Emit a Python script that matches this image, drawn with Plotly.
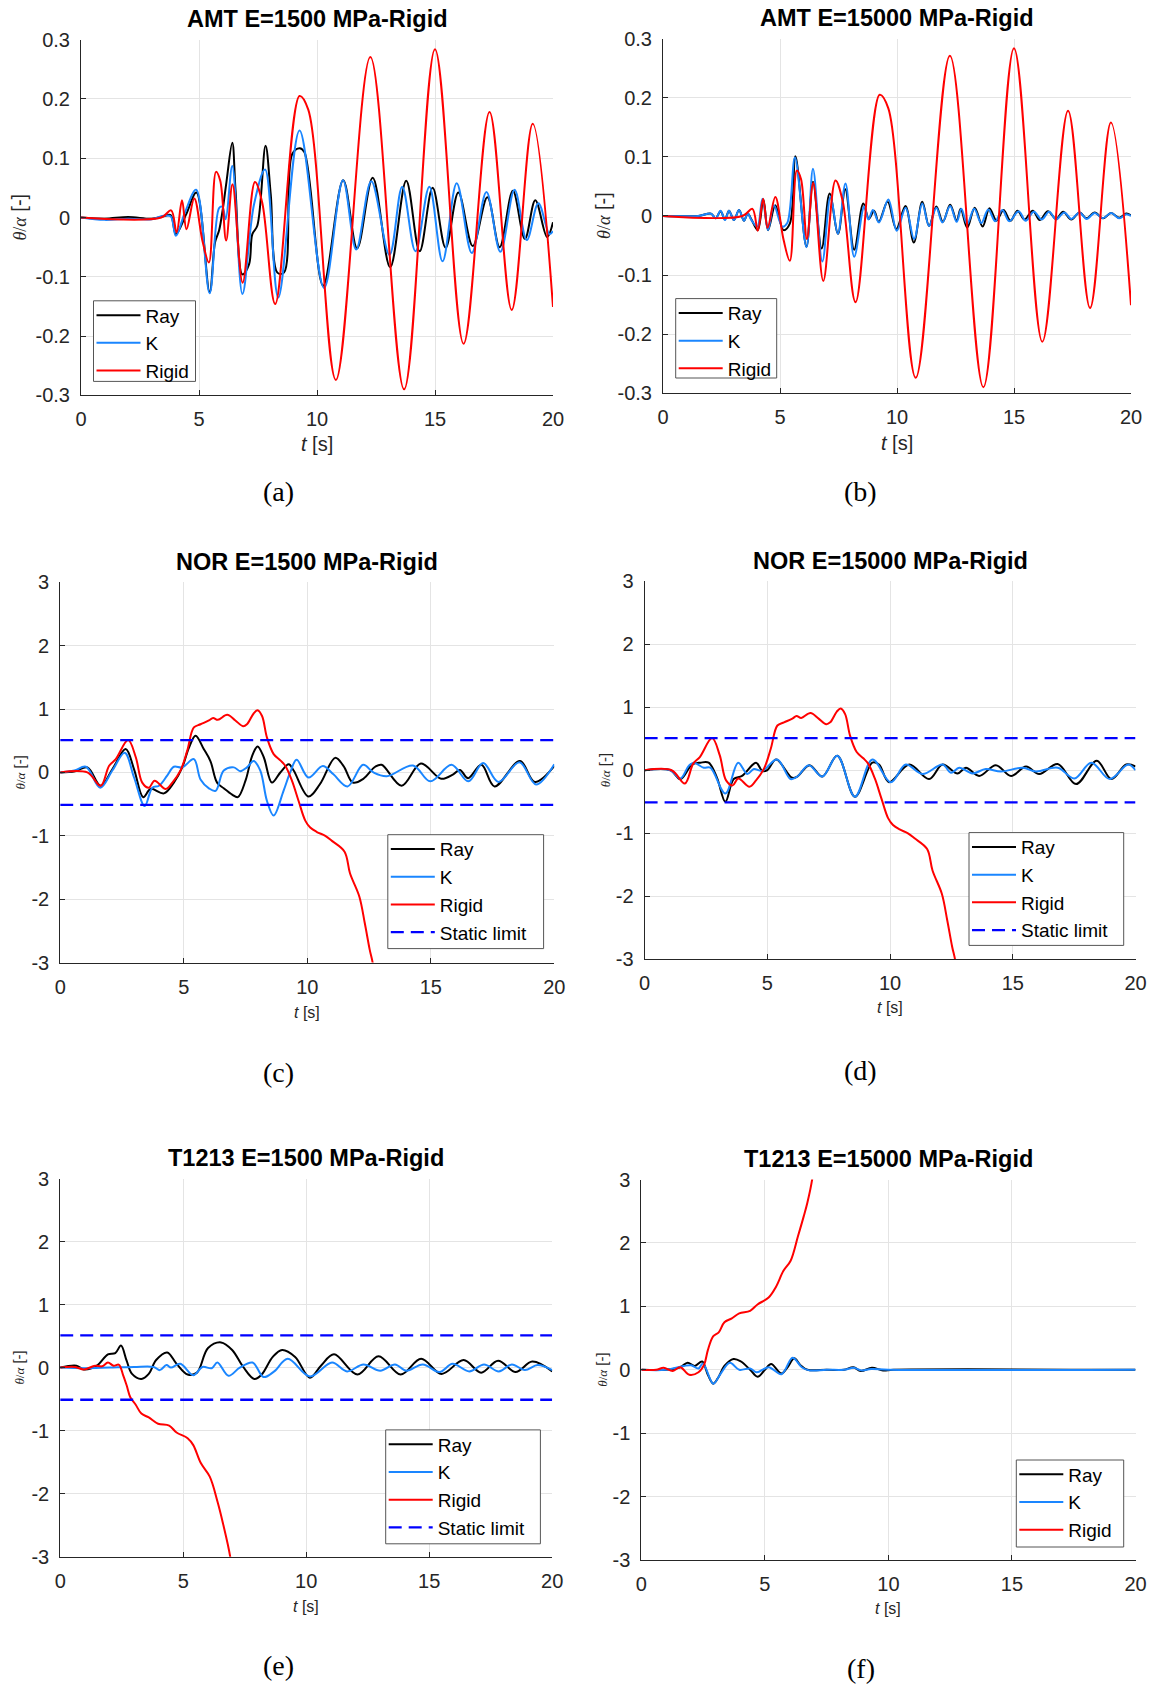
import plotly.graph_objects as go

# ------------------------------------------------------------------ data
# AMT (panels a, b) -- rigid response is common to both panels
t_amt_rigid = [0, 3.4, 3.82, 4.05, 4.28, 4.47, 4.8, 5.15, 5.42, 5.72, 5.9, 6.15, 6.42, 6.85, 7.37, 7.68,
               8.23, 9.26, 9.63, 10.8, 12.26, 13.69, 15.0, 16.21, 17.31, 18.25, 19.14, 20]
v_amt_rigid = [0, 0, 0.012, -0.025, 0.029, -0.02, 0.032, -0.04, -0.076, 0.077, 0.062, -0.039, 0.056, -0.11,
               0.06, 0.025, -0.146, 0.205, 0.182, -0.274, 0.271, -0.29, 0.284, -0.213, 0.178, -0.156, 0.158, -0.151]

t_amt1500_ray = [0, 1.0, 2.0, 3.0, 3.5, 3.8, 4.02, 4.45, 4.89, 5.45, 5.68, 5.85, 6.0, 6.16, 6.41, 6.55, 6.84,
                 7.12, 7.26, 7.47, 7.82, 8.04, 8.32, 8.6, 8.95, 9.27, 9.47, 10.26, 11.11, 11.7, 12.36, 13.1,
                 13.78, 14.35, 14.9, 15.45, 15.99, 16.6, 17.22, 17.74, 18.3, 18.81, 19.25, 19.75, 20]
v_amt1500_ray = [0, -0.002, 0.001, -0.002, 0.002, 0.004, -0.028, 0.005, 0.042, -0.126, -0.042, -0.022, 0.012,
                 0.059, 0.126, 0.045, -0.096, -0.079, -0.028, -0.014, 0.121, 0.039, -0.093, -0.093, 0.107,
                 0.117, 0.11, -0.115, 0.063, -0.052, 0.067, -0.084, 0.062, -0.057, 0.05, -0.051, 0.042,
                 -0.048, 0.034, -0.05, 0.045, -0.036, 0.029, -0.033, -0.008]

t_amt1500_k = [0, 1.0, 2.0, 3.0, 3.5, 3.8, 4.02, 4.4, 4.88, 5.45, 5.85, 5.99, 6.13, 6.41, 6.84, 7.33, 7.8,
               8.36, 9.26, 10.3, 11.1, 11.66, 12.3, 13.07, 13.61, 14.17, 14.76, 15.32, 15.92, 16.56, 17.18,
               17.77, 18.37, 18.89, 19.38, 19.85, 20]
v_amt1500_k = [0, -0.004, -0.002, -0.003, 0.003, 0.002, -0.031, 0.008, 0.047, -0.128, 0.016, 0.018, -0.003,
               0.087, -0.129, 0.022, 0.081, -0.135, 0.147, -0.119, 0.063, -0.054, 0.061, -0.063, 0.052,
               -0.057, 0.052, -0.074, 0.058, -0.06, 0.043, -0.058, 0.047, -0.038, 0.024, -0.028, -0.023]

t_amt15000_ray = [0, 1.5, 2.05, 2.25, 2.46, 2.65, 2.82, 3.03, 3.25, 3.46, 3.62, 3.78, 4.05, 4.29, 4.49, 4.8,
                  5.15, 5.42, 5.66, 6.13, 6.41, 6.78, 7.12, 7.48, 7.79, 8.17, 8.56, 8.8, 9.02, 9.22, 9.6,
                  9.97, 10.36, 10.72, 11.08, 11.37, 11.68, 11.96, 12.27, 12.55, 12.72, 13.0, 13.32, 13.66,
                  13.95, 14.25, 14.55, 14.85, 15.15, 15.45, 15.8, 16.1, 16.45, 16.8, 17.1, 17.45, 17.8, 18.1,
                  18.45, 18.8, 19.15, 19.5, 19.8, 20]
v_amt15000_ray = [0, 0, 0.004, -0.004, 0.008, -0.006, 0.009, -0.007, 0.01, -0.008, 0.004, -0.006, -0.024,
                  0.028, -0.024, 0.018, -0.024, -0.013, 0.101, -0.052, 0.058, -0.055, 0.038, -0.03, 0.045,
                  -0.057, 0.021, -0.005, 0.009, -0.01, 0.024, -0.022, 0.017, -0.045, 0.024, -0.017, 0.016,
                  -0.01, 0.019, -0.008, 0.012, -0.02, 0.014, -0.018, 0.013, -0.008, 0.01, -0.008, 0.009,
                  -0.006, 0.009, -0.007, 0.008, -0.005, 0.007, -0.006, 0.006, -0.004, 0.006, -0.004, 0.005,
                  -0.003, 0.004, 0.001]

t_amt15000_k = [0, 1.5, 2.05, 2.25, 2.46, 2.65, 2.82, 3.03, 3.25, 3.46, 3.62, 3.78, 4.03, 4.25, 4.49, 4.74,
                5.1, 5.31, 5.64, 6.13, 6.41, 6.81, 7.16, 7.47, 7.8, 8.17, 8.6, 8.78, 8.97, 9.23, 9.63, 9.99,
                10.37, 10.73, 11.08, 11.37, 11.68, 11.94, 12.27, 12.55, 12.75, 13.0, 13.3, 13.6, 13.9, 14.2,
                14.5, 14.8, 15.2, 15.5, 15.85, 16.18, 16.5, 16.8, 17.15, 17.45, 17.8, 18.1, 18.45, 18.8,
                19.15, 19.5, 19.8, 20]
v_amt15000_k = [0, 0, 0.004, -0.004, 0.009, -0.007, 0.009, -0.007, 0.01, -0.008, 0.004, -0.007, -0.018,
                0.029, -0.024, 0.018, -0.018, -0.012, 0.099, -0.053, 0.08, -0.077, 0.033, -0.03, 0.055,
                -0.069, 0.016, -0.006, 0.01, -0.011, 0.028, -0.025, 0.014, -0.039, 0.021, -0.017, 0.014,
                -0.011, 0.017, -0.01, 0.012, -0.014, 0.012, -0.012, 0.011, -0.009, 0.01, -0.009, 0.008,
                -0.008, 0.007, -0.006, 0.007, -0.006, 0.006, -0.005, 0.006, -0.005, 0.005, -0.004, 0.005,
                -0.004, 0.003, 0.0]

# NOR (panels c, d) -- rigid response is common to both panels
t_nor_rigid = [0, 1.1, 1.64, 1.98, 2.25, 2.75, 3.06, 3.32, 3.59, 3.82, 4.27, 4.54, 4.87, 5.14, 5.41, 5.68,
               6.02, 6.19, 6.38, 6.76, 7.09, 7.4, 7.56, 7.83, 7.99, 8.17, 8.37, 8.64, 8.91, 9.11, 9.38, 9.65,
               9.92, 10.12, 10.39, 10.73, 11.0, 11.51, 11.73, 12.11, 12.33, 12.53, 12.66, 12.8]
v_nor_rigid = [0, 0, -0.21, 0.105, 0.21, 0.51, 0.24, -0.16, -0.24, -0.13, -0.26, -0.16, 0.03, 0.34, 0.71,
               0.76, 0.82, 0.86, 0.83, 0.91, 0.82, 0.73, 0.76, 0.93, 0.98, 0.89, 0.55, 0.29, 0.19, 0.105,
               -0.13, -0.45, -0.76, -0.87, -0.94, -1.0, -1.08, -1.25, -1.59, -1.96, -2.38, -2.80, -3.03, -3.6]

t_nor1500_ray = [0, 0.6, 1.1, 1.64, 2.11, 2.65, 2.99, 3.36, 3.66, 4.2, 4.6, 4.94, 5.21, 5.48, 5.81, 6.08,
                 6.35, 6.62, 6.96, 7.19, 7.5, 7.77, 7.99, 8.24, 8.57, 8.91, 9.25, 9.45, 10.05, 10.52, 11.13,
                 11.47, 11.85, 12.27, 12.75, 13.01, 13.82, 14.6, 15.42, 15.91, 16.18, 16.51, 17.05, 17.58,
                 18.61, 19.21, 20]
v_nor1500_ray = [0, 0.02, 0.08, -0.21, 0.05, 0.37, 0.05, -0.39, -0.26, -0.33, -0.16, 0.08, 0.39, 0.58, 0.37,
                 0.18, -0.16, -0.25, -0.35, -0.39, -0.13, 0.26, 0.41, 0.24, -0.16, 0.0, 0.13, 0.03, -0.38,
                 -0.18, 0.23, 0.1, -0.16, -0.1, 0.09, 0.12, -0.21, 0.14, -0.1, -0.03, 0.04, -0.09, 0.12,
                 -0.22, 0.18, -0.15, 0.1]

t_nor1500_k = [0, 0.57, 1.04, 1.62, 2.11, 2.61, 2.99, 3.42, 3.73, 4.0, 4.33, 4.6, 4.94, 5.41, 5.68, 6.02,
               6.29, 6.62, 7.03, 7.29, 7.56, 7.83, 8.1, 8.37, 8.64, 9.04, 9.31, 9.57, 10.05, 10.63, 11.06,
               11.63, 12.26, 12.68, 13.22, 14.28, 14.98, 15.84, 16.52, 17.12, 17.74, 18.59, 19.26, 20]
v_nor1500_k = [0, 0.03, 0.09, -0.24, 0.03, 0.31, -0.08, -0.53, -0.24, -0.21, -0.05, 0.09, 0.08, 0.21, -0.11,
               -0.25, -0.29, 0.03, 0.08, 0.02, 0.08, 0.18, 0.03, -0.45, -0.68, -0.29, 0.0, 0.2, -0.08, 0.1,
               -0.03, -0.22, 0.12, 0.0, -0.06, 0.11, -0.14, 0.12, -0.14, 0.15, -0.15, 0.16, -0.19, 0.13]

t_nor15000_ray = [0, 1.05, 1.46, 1.93, 2.27, 2.61, 2.95, 3.29, 3.63, 3.97, 4.54, 4.79, 4.99, 5.36, 6.01,
                  6.22, 6.72, 7.24, 7.85, 8.57, 9.28, 9.55, 9.96, 10.78, 11.59, 12.14, 12.75, 13.09, 13.63,
                  14.31, 14.93, 15.54, 16.08, 16.83, 17.58, 18.42, 19.02, 19.62, 20]
v_nor15000_ray = [0, 0, -0.14, 0.09, 0.12, 0.12, -0.12, -0.5, -0.14, -0.09, 0.12, -0.01, 0.0, 0.17, -0.12,
                  -0.1, 0.08, -0.1, 0.23, -0.42, 0.12, 0.09, -0.19, 0.09, -0.14, 0.09, -0.05, 0.04, -0.09,
                  0.08, -0.09, 0.06, -0.06, 0.1, -0.22, 0.15, -0.14, 0.09, 0.06]

t_nor15000_k = [0, 1.05, 1.46, 1.8, 2.0, 2.41, 2.68, 3.29, 3.81, 4.18, 4.45, 4.79, 5.4, 5.95, 6.22, 6.69,
                7.24, 7.85, 8.57, 9.28, 10.03, 10.64, 11.32, 12.14, 12.48, 12.82, 13.36, 13.9, 14.52, 15.4,
                15.95, 16.83, 17.51, 18.2, 18.95, 19.7, 20]
v_nor15000_k = [0, 0, -0.13, 0.07, 0.12, 0.04, 0.04, -0.37, 0.12, -0.06, 0.02, -0.01, 0.17, -0.14, -0.1,
                0.08, -0.1, 0.23, -0.42, 0.17, -0.19, 0.09, -0.06, 0.09, -0.04, 0.04, -0.05, 0.02, -0.02,
                0.04, -0.02, 0.04, -0.13, 0.12, -0.14, 0.09, 0.0]

# T1213 (panels e, f)
t_t1500_rigid = [0, 0.6, 0.96, 1.42, 1.7, 1.94, 2.17, 2.39, 2.55, 2.7, 2.85, 3.07, 3.3, 3.6, 3.98, 4.43,
                 4.73, 5.18, 5.41, 5.71, 6.08, 6.39, 6.61, 6.91, 7.05]
v_t1500_rigid = [0, 0.01, -0.03, 0.03, 0.02, 0.08, 0.03, 0.045, -0.11, -0.28, -0.47, -0.59, -0.73, -0.79,
                 -0.89, -0.92, -1.03, -1.12, -1.23, -1.51, -1.73, -2.12, -2.46, -3.0, -3.5]

t_t1500_ray = [0, 0.66, 0.96, 1.49, 1.94, 2.24, 2.47, 2.7, 2.92, 3.3, 3.6, 3.9, 4.35, 4.73, 5.18, 5.56,
               6.01, 6.54, 6.99, 7.44, 7.89, 8.19, 8.64, 9.02, 9.55, 10.15, 10.6, 11.13, 12.08, 12.94,
               13.84, 14.67, 15.5, 16.4, 17.11, 17.8, 18.51, 19.19, 20]
v_t1500_ray = [0, 0.03, -0.03, 0.03, 0.21, 0.23, 0.35, 0.11, -0.1, -0.18, -0.1, 0.12, 0.24, 0.06, -0.11,
               -0.08, 0.31, 0.4, 0.28, 0.01, -0.18, -0.11, 0.17, 0.28, 0.17, -0.16, 0.03, 0.21, -0.11,
               0.18, -0.11, 0.14, -0.1, 0.12, -0.08, 0.11, -0.07, 0.095, -0.06]

t_t1500_k = [0, 1.0, 2.0, 3.0, 3.8, 4.05, 4.32, 4.5, 4.88, 5.41, 5.78, 6.16, 6.39, 6.84, 7.3, 7.82, 8.27,
             8.7, 9.25, 10.15, 11.05, 11.66, 12.33, 13.01, 13.61, 14.07, 14.74, 15.42, 15.95, 16.63, 17.23,
             17.83, 18.36, 18.89, 19.41, 20]
v_t1500_k = [0, -0.01, 0.0, 0.01, 0.01, -0.04, 0.04, 0.0, 0.06, -0.12, 0.01, -0.01, 0.08, -0.13, 0.0, 0.08,
             -0.15, -0.06, 0.14, -0.14, 0.08, -0.06, 0.05, -0.05, 0.05, -0.05, 0.05, -0.07, 0.06, -0.06,
             0.05, -0.06, 0.05, -0.04, 0.04, -0.04]

t_t15000_rigid = [0, 0.6, 0.9, 1.27, 1.57, 1.94, 2.31, 2.54, 2.69, 2.91, 3.13, 3.36, 3.66, 3.96, 4.4, 4.7,
                  5.15, 5.45, 5.75, 6.04, 6.34, 6.57, 6.72, 6.91, 7.05]
v_t15000_rigid = [0, 0.0, 0.03, -0.02, 0.04, -0.08, -0.04, 0.08, 0.31, 0.53, 0.59, 0.75, 0.81, 0.89, 0.93,
                  1.03, 1.14, 1.31, 1.56, 1.72, 2.11, 2.42, 2.64, 3.0, 3.5]

t_t15000_ray = [0, 1.0, 1.57, 1.87, 2.16, 2.46, 2.69, 2.91, 3.13, 3.36, 3.73, 4.03, 4.4, 4.7, 5.0, 5.25,
                5.67, 5.9, 6.19, 6.42, 6.72, 7.5, 8.2, 8.58, 8.88, 9.33, 9.78, 10.2, 20]
v_t15000_ray = [0, 0.0, 0.04, 0.11, 0.06, 0.13, -0.08, -0.22, -0.11, 0.06, 0.17, 0.13, 0.0, -0.11, 0.0,
                0.09, -0.06, 0.03, 0.18, 0.08, 0.0, 0.0, 0.0, 0.04, -0.02, 0.03, -0.01, 0.0, 0.0]

t_t15000_k = [0, 1.0, 1.72, 2.01, 2.31, 2.49, 2.91, 3.21, 3.58, 3.96, 4.4, 4.67, 5.15, 5.67, 6.12, 6.49,
              6.79, 7.5, 8.2, 8.6, 8.9, 9.3, 10.0, 20]
v_t15000_k = [0, 0.0, 0.06, 0.07, 0.02, 0.1, -0.22, -0.06, 0.11, 0.0, 0.02, -0.04, 0.04, -0.07, 0.19, 0.04,
              -0.01, 0.0, 0.0, 0.03, -0.01, 0.01, 0.0, 0.0]

static_limit = 0.51
t_range = [0, 20]

x_ticks = [0, 5, 10, 15, 20]
x_ticktext = ["0", "5", "10", "15", "20"]
y_ticks_amt = [-0.3, -0.2, -0.1, 0, 0.1, 0.2, 0.3]
y_ticktext_amt = ["-0.3", "-0.2", "-0.1", "0", "0.1", "0.2", "0.3"]
y_ticks_big = [-3, -2, -1, 0, 1, 2, 3]
y_ticktext_big = ["-3", "-2", "-1", "0", "1", "2", "3"]

titles = ["AMT E=1500 MPa-Rigid", "AMT E=15000 MPa-Rigid", "NOR E=1500 MPa-Rigid",
          "NOR E=15000 MPa-Rigid", "T1213 E=1500 MPa-Rigid", "T1213 E=15000 MPa-Rigid"]
panel_labels = ["(a)", "(b)", "(c)", "(d)", "(e)", "(f)"]
series_names = ["Ray", "K", "Rigid", "Static limit"]

# ------------------------------------------------------------------ layout helpers
W, H = 1156, 1684
SANS = "Liberation Sans, Arial, sans-serif"
SERIF = "Liberation Serif, Times New Roman, serif"
DARK = "#262626"
COL_RAY, COL_K, COL_RIGID, COL_LIM = "#000000", "#1a86ff", "#ff0000", "#0000ff"


def fx(p):
    return p / W


def fy(p):
    return 1 - p / H


# plot boxes in pixels: (x0, x1, ytop, ybottom)
boxes = [(81, 553, 39.7, 395.3), (663, 1131, 38.7, 393.2),
         (60.2, 554.3, 582.3, 962.6), (644.6, 1135.5, 581.2, 959.3),
         (60.2, 552.2, 1178.5, 1556.7), (641.4, 1135.5, 1179.6, 1559.9)]
# legend frames in pixels: (x0, x1, ytop, ybottom)
legend_boxes = [(93.5, 195.5, 300.8, 381.4), (675.7, 776.7, 298.6, 378.0),
                (387.8, 543.6, 834.7, 948.6), (969.0, 1123.7, 832.6, 945.4),
                (385.7, 540.4, 1429.9, 1543.8), (1016.3, 1123.7, 1460.0, 1547.0)]
xtitle_y = [443.7, 442.6, 1012, 1007.7, 1606, 1608]
ytitle_x = [19, 603, 19, 604, 19, 602]
label_pos = [(278, 491), (860.5, 491), (278, 1072), (860.5, 1070), (278, 1665), (860.5, 1668)]

series = [
    (t_amt1500_ray, v_amt1500_ray, t_amt1500_k, v_amt1500_k, t_amt_rigid, v_amt_rigid, False),
    (t_amt15000_ray, v_amt15000_ray, t_amt15000_k, v_amt15000_k, t_amt_rigid, v_amt_rigid, False),
    (t_nor1500_ray, v_nor1500_ray, t_nor1500_k, v_nor1500_k, t_nor_rigid, v_nor_rigid, True),
    (t_nor15000_ray, v_nor15000_ray, t_nor15000_k, v_nor15000_k, t_nor_rigid, v_nor_rigid, True),
    (t_t1500_ray, v_t1500_ray, t_t1500_k, v_t1500_k, t_t1500_rigid, v_t1500_rigid, True),
    (t_t15000_ray, v_t15000_ray, t_t15000_k, v_t15000_k, t_t15000_rigid, v_t15000_rigid, False),
]

fig = go.Figure()
layout = dict(width=W, height=H, margin=dict(l=0, r=0, t=0, b=0, autoexpand=False), autosize=False,
              paper_bgcolor="white", plot_bgcolor="white", annotations=[], shapes=[])

for i, (box, ser) in enumerate(zip(boxes, series)):
    n = i + 1
    xa = "x" if n == 1 else f"x{n}"
    ya = "y" if n == 1 else f"y{n}"
    leg = "legend" if n == 1 else f"legend{n}"
    x0, x1, yt, yb = box
    amt = i < 2
    tr, vr, tk, vk, tg, vg, has_lim = ser

    common = dict(xaxis=xa, yaxis=ya, legend=leg, mode="lines", line_shape="spline")
    fig.add_trace(go.Scatter(x=tr, y=vr, name=series_names[0], line=dict(color=COL_RAY, width=2), **common))
    fig.add_trace(go.Scatter(x=tk, y=vk, name=series_names[1], line=dict(color=COL_K, width=2), **common))
    fig.add_trace(go.Scatter(x=tg, y=vg, name=series_names[2], line=dict(color=COL_RIGID, width=2), **common))
    if has_lim:
        fig.add_trace(go.Scatter(x=[t_range[0], t_range[1], None, t_range[0], t_range[1]],
                                 y=[static_limit, static_limit, None, -static_limit, -static_limit],
                                 name=series_names[3], xaxis=xa, yaxis=ya, legend=leg, mode="lines",
                                 line=dict(color=COL_LIM, width=2.3, dash="13px,7px")))

    axis_common = dict(showline=True, linecolor=DARK, linewidth=1, ticks="inside", ticklen=5,
                       tickcolor=DARK, showgrid=True, gridcolor="#e4e4e4", gridwidth=1, zeroline=False,
                       automargin=False,
                       tickfont=dict(family=SANS, size=20, color=DARK), tickmode="array",
                       ticklabelstandoff=6)
    layout["xaxis" if n == 1 else f"xaxis{n}"] = dict(
        domain=[fx(x0), fx(x1)], anchor=ya, range=t_range, tickvals=x_ticks, ticktext=x_ticktext,
        **axis_common)
    layout["yaxis" if n == 1 else f"yaxis{n}"] = dict(
        domain=[fy(yb), fy(yt)], anchor=xa,
        range=[-0.3, 0.3] if amt else [-3, 3],
        tickvals=y_ticks_amt if amt else y_ticks_big,
        ticktext=y_ticktext_amt if amt else y_ticktext_big, **axis_common)

    # legend frame drawn as a shape, legend entries on top of it
    lx0, lx1, lyt, lyb = legend_boxes[i]
    layout["shapes"].append(dict(type="rect", xref="paper", yref="paper", x0=fx(lx0), x1=fx(lx1),
                                 y0=fy(lyb), y1=fy(lyt), fillcolor="white",
                                 line=dict(color="#555555", width=1), layer="above"))
    layout[leg] = dict(x=fx(lx0 - 2), y=fy(lyt - 4.5), xanchor="left", yanchor="top",
                       bgcolor="rgba(0,0,0,0)", borderwidth=0,
                       font=dict(family=SANS, size=19, color="black"),
                       itemwidth=44, tracegroupgap=0, traceorder="normal")

    cx = (x0 + x1) / 2
    # subplot title
    layout["annotations"].append(dict(text=f"<b>{titles[i]}</b>", x=fx(cx), y=fy(yt - 20.5), xref="paper",
                                      yref="paper", showarrow=False, xanchor="center", yanchor="middle",
                                      font=dict(family=SANS, size=23.5, color="black")))
    # x axis title
    xs = 20 if amt else 16
    layout["annotations"].append(dict(text="<i>t</i> [s]", x=fx(cx), y=fy(xtitle_y[i]), xref="paper",
                                      yref="paper", showarrow=False, xanchor="center", yanchor="middle",
                                      font=dict(family=SANS, size=xs, color=DARK)))
    # y axis title
    ys_big = 20 if amt else 15
    ys_small = 18 if amt else 13
    ytxt = (f"<span style=\"font-family:Liberation Serif;font-size:{ys_small}px\"><i>θ</i>/<i>α</i></span>"
            f" [-]")
    zero_py = yt + (yb - yt) / 2
    layout["annotations"].append(dict(text=ytxt, x=fx(ytitle_x[i]), y=fy(zero_py), xref="paper",
                                      yref="paper", showarrow=False, xanchor="center", yanchor="middle",
                                      textangle=-90, font=dict(family=SANS, size=ys_big, color=DARK)))
    # panel label
    px, py = label_pos[i]
    layout["annotations"].append(dict(text=panel_labels[i], x=fx(px), y=fy(py), xref="paper", yref="paper",
                                      showarrow=False, xanchor="center", yanchor="middle",
                                      font=dict(family=SERIF, size=28, color="black")))

fig.update_layout(**layout)
fig.write_html("out.html")
